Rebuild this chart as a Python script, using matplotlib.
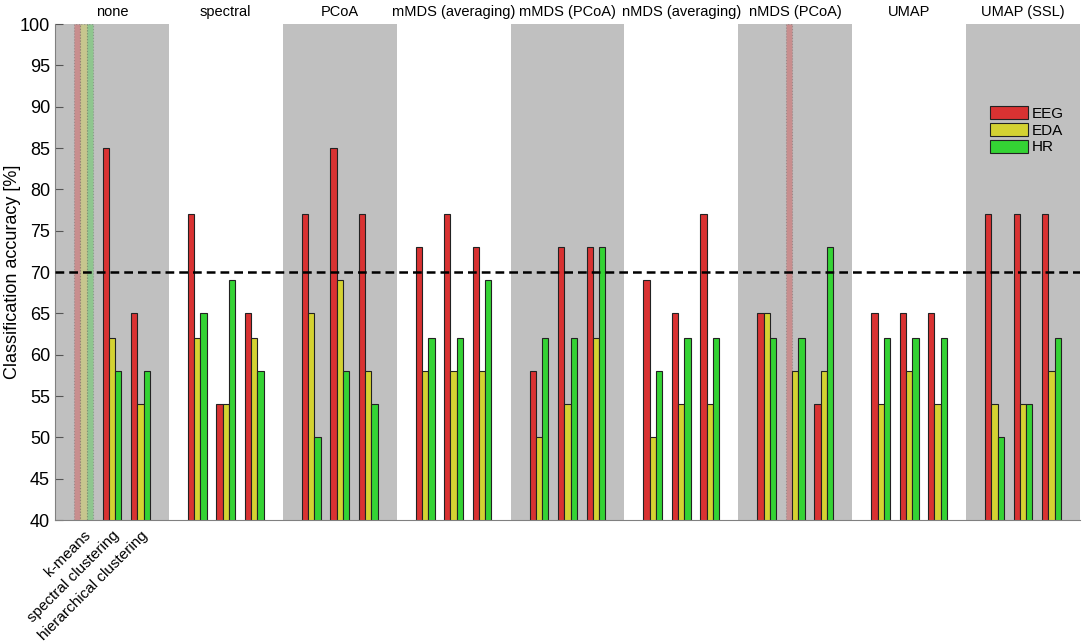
import numpy as np
import matplotlib.pyplot as plt
from matplotlib.transforms import blended_transform_factory

plt.rcParams['font.family'] = ['Liberation Sans', 'DejaVu Sans']

# embeddings (groups along x) and clustering methods (bars within a group)
embeddings = ['none', 'spectral', 'PCoA', 'mMDS (averaging)', 'mMDS (PCoA)',
              'nMDS (averaging)', 'nMDS (PCoA)', 'UMAP', 'UMAP (SSL)']
methods = ['k-means', 'spectral clustering', 'hierarchical clustering']
modalities = ['EEG', 'EDA', 'HR']

# accuracy [%] per embedding, per clustering method
eeg = [[100, 85, 65], [77, 54, 65], [77, 85, 77], [73, 77, 73], [58, 73, 73],
       [69, 65, 77], [65, 100, 54], [65, 65, 65], [77, 77, 77]]
eda = [[100, 62, 54], [62, 54, 62], [65, 69, 58], [58, 58, 58], [50, 54, 62],
       [50, 54, 54], [65, 58, 58], [54, 58, 54], [54, 54, 58]]
hr = [[100, 58, 58], [65, 69, 58], [50, 58, 54], [62, 62, 69], [62, 62, 73],
      [58, 62, 62], [62, 62, 73], [62, 62, 62], [50, 54, 62]]

# (embedding, method, modality) results drawn faded (degenerate)
faded = [(0, 0, 0), (0, 0, 1), (0, 0, 2), (6, 1, 0)]

threshold = 70

colors = ['#d93232', '#d4d232', '#34d334']
data = [np.array(eeg), np.array(eda), np.array(hr)]

fig = plt.figure(figsize=(10.84, 6.44), dpi=100)
ax = fig.add_axes([0.0507, 0.1925, 0.9456, 0.7702])

# alternating grey background
for i in range(0, len(embeddings), 2):
    ax.axvspan(i - 0.5, i + 0.5, color='#c0c0c0', zorder=0, lw=0)

meth_off = [-0.25, 0.0, 0.25]
bw = 0.055
mod_off = [-bw, 0.0, bw]

for k in range(3):
    for j in range(3):
        for i in range(len(embeddings)):
            x = i + meth_off[j] + mod_off[k]
            v = data[k][i, j]
            if (i, j, k) in faded:
                ax.bar(x, v, width=bw, color=colors[k], alpha=0.35,
                       edgecolor='#555555', linestyle=':', linewidth=0.8, zorder=2)
            else:
                ax.bar(x, v, width=bw, color=colors[k], edgecolor='#222222',
                       linewidth=0.8, zorder=2,
                       label=modalities[k] if (i == 1 and j == 0) else None)

ax.axhline(threshold, color='black', lw=1.8, ls=(0, (3.5, 2)), zorder=3)

ax.set_xlim(-0.5, len(embeddings) - 0.5)
ax.set_ylim(40, 100)
ax.set_yticks(np.arange(40, 101, 5))
ax.set_ylabel('Classification accuracy [%]', fontsize=13)
ax.yaxis.set_label_coords(-0.033, 0.5)
ax.tick_params(axis='y', direction='in', length=6, color='#555555', labelsize=13)

ax.set_xticks(meth_off)
ax.set_xticklabels(methods, rotation=45, ha='right', rotation_mode='anchor',
                   fontsize=11)
ax.tick_params(axis='x', length=0, pad=6)

for s in ['top', 'right']:
    ax.spines[s].set_visible(False)
for s in ['left', 'bottom']:
    ax.spines[s].set_color('#808080')

tr = blended_transform_factory(ax.transData, ax.transAxes)
for i, name in enumerate(embeddings):
    ax.text(i, 1.01, name, transform=tr, ha='center', va='bottom', fontsize=10.5)

ax.legend(loc='upper left', bbox_to_anchor=(0.905, 0.85), frameon=False,
          fontsize=11, handlelength=2.5, handleheight=0.9, labelspacing=0.15,
          handletextpad=0.2, borderpad=0)

plt.savefig('out.png', dpi=100)
